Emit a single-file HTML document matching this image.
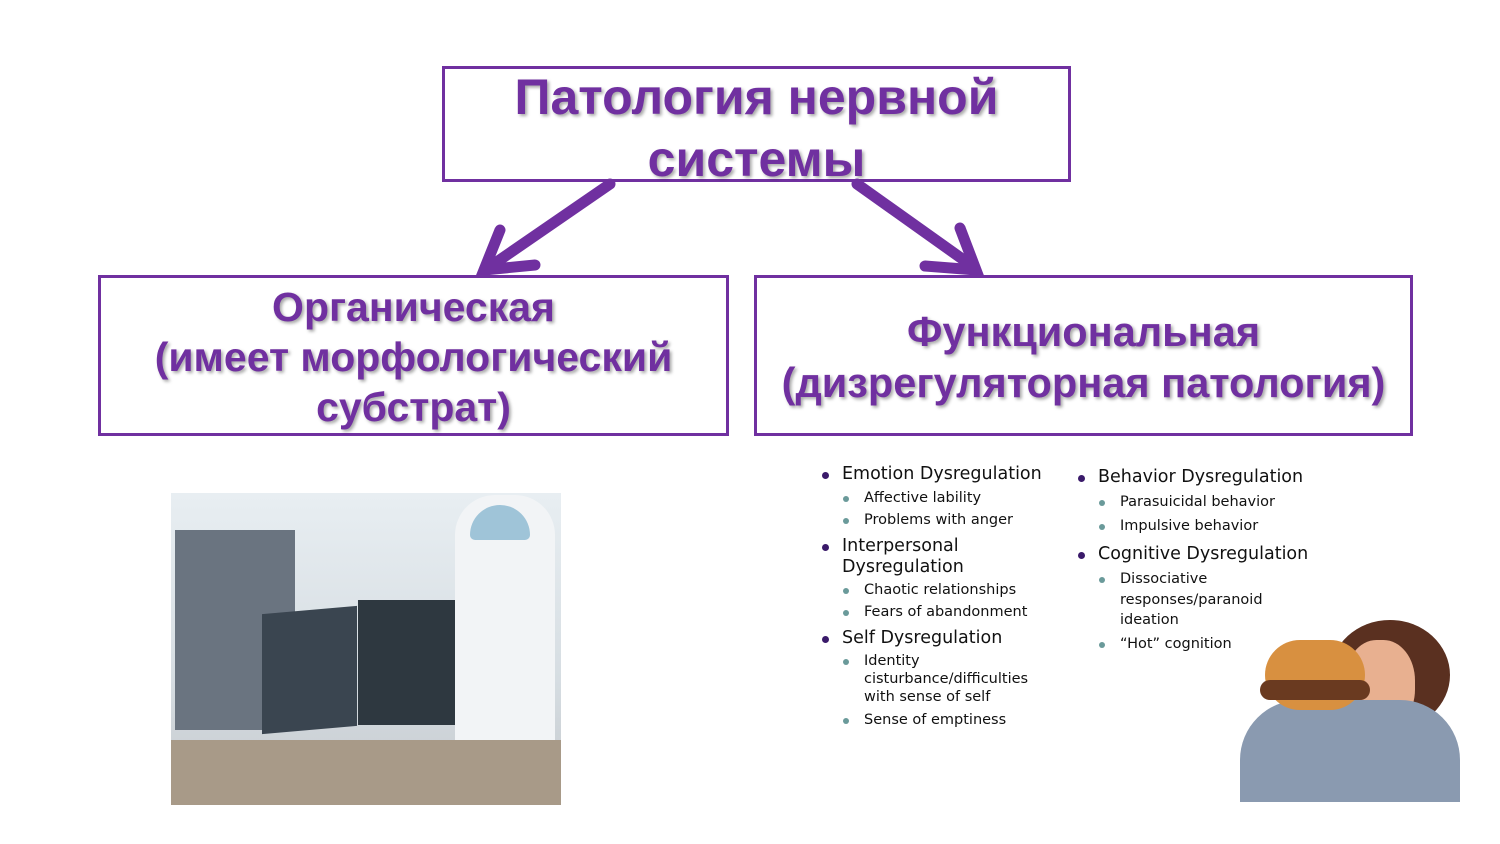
<!DOCTYPE html>
<html><head><meta charset="utf-8"><style>
body{margin:0;width:1500px;height:844px;background:#fff;position:relative;overflow:hidden;font-family:"Liberation Sans",sans-serif}
.box{position:absolute;border:3px solid #7030a0;box-sizing:border-box}
.t{position:absolute;color:#7030a0;font-weight:bold;text-align:center;text-shadow:2px 2px 3px rgba(0,0,0,.35);white-space:nowrap}
.l{position:absolute;font-family:"DejaVu Sans","Liberation Sans",sans-serif;color:#111;white-space:nowrap}
.m{font-size:17.5px}
.s{font-size:14.5px}
.m::before{content:"";position:absolute;left:-20px;top:8px;width:7px;height:7px;border-radius:50%;background:#3a1a6a}
.s::before{content:"";position:absolute;left:-21px;top:6px;width:6px;height:6px;border-radius:50%;background:#6a9a9a}
</style></head><body>
<div class="box" style="left:442px;top:66px;width:629px;height:116px"></div>
<div class="t" style="left:442px;top:66px;width:629px;font-size:50px;line-height:62px">Патология нервной<br>системы</div>
<div class="box" style="left:98px;top:275px;width:631px;height:161px"></div>
<div class="t" style="left:98px;top:282px;width:631px;font-size:41px;line-height:50px">Органическая<br>(имеет морфологический<br>субстрат)</div>
<div class="box" style="left:754px;top:275px;width:659px;height:161px"></div>
<div class="t" style="left:754px;top:306px;width:659px;font-size:41.5px;line-height:51px">Функциональная<br>(дизрегуляторная патология)</div>
<svg style="position:absolute;left:0;top:0" width="1500" height="844">
<g stroke="#7030a0" stroke-width="11" stroke-linecap="round" fill="none">
<line x1="610" y1="184" x2="488" y2="268"/>
<polyline points="500,230 484,270 535,265"/>
<line x1="857" y1="184" x2="975" y2="268"/>
<polyline points="960,228 976,270 925,266"/>
</g>
</svg>
<div style="position:absolute;left:171px;top:493px;width:390px;height:312px;background:linear-gradient(180deg,#e8eef2 0%,#d6dde2 60%,#c4c8cc 100%)"></div>
<div style="position:absolute;left:175px;top:530px;width:120px;height:200px;background:#6a7480"></div>
<div style="position:absolute;left:262px;top:610px;width:95px;height:120px;background:#3a4550;transform:skewY(-5deg)"></div>
<div style="position:absolute;left:358px;top:600px;width:105px;height:125px;background:#2e3840"></div>
<div style="position:absolute;left:455px;top:495px;width:100px;height:260px;background:#f2f4f6;border-radius:40px 40px 0 0"></div>
<div style="position:absolute;left:470px;top:505px;width:60px;height:35px;background:#9fc4d8;border-radius:30px 30px 5px 5px"></div>
<div style="position:absolute;left:171px;top:740px;width:390px;height:65px;background:#a89a88"></div>
<div style="position:absolute;left:1330px;top:620px;width:120px;height:110px;background:#5a3020;border-radius:50%"></div>
<div style="position:absolute;left:1345px;top:640px;width:70px;height:90px;background:#e8b090;border-radius:45%"></div>
<div style="position:absolute;left:1240px;top:700px;width:220px;height:102px;background:#8a9ab0;border-radius:60px 60px 0 0"></div>
<div style="position:absolute;left:1265px;top:640px;width:100px;height:70px;background:#d89040;border-radius:40px"></div>
<div style="position:absolute;left:1260px;top:680px;width:110px;height:20px;background:#6a3a20;border-radius:10px"></div>
<div class="l m" style="left:842px;top:464px">Emotion Dysregulation</div>
<div class="l s" style="left:864px;top:490px">Affective lability</div>
<div class="l s" style="left:864px;top:512px">Problems with anger</div>
<div class="l m" style="left:842px;top:536px">Interpersonal</div>
<div class="l" style="left:842px;top:557px;font-size:17.5px">Dysregulation</div>
<div class="l s" style="left:864px;top:582px">Chaotic relationships</div>
<div class="l s" style="left:864px;top:604px">Fears of abandonment</div>
<div class="l m" style="left:842px;top:628px">Self Dysregulation</div>
<div class="l s" style="left:864px;top:653px">Identity</div>
<div class="l" style="left:864px;top:671px;font-size:14.5px">cisturbance/difficulties</div>
<div class="l" style="left:864px;top:689px;font-size:14.5px">with sense of self</div>
<div class="l s" style="left:864px;top:712px">Sense of emptiness</div>
<div class="l m" style="left:1098px;top:467px">Behavior Dysregulation</div>
<div class="l s" style="left:1120px;top:494px">Parasuicidal behavior</div>
<div class="l s" style="left:1120px;top:518px">Impulsive behavior</div>
<div class="l m" style="left:1098px;top:544px">Cognitive Dysregulation</div>
<div class="l s" style="left:1120px;top:571px">Dissociative</div>
<div class="l" style="left:1120px;top:592px;font-size:14.5px">responses/paranoid</div>
<div class="l" style="left:1120px;top:612px;font-size:14.5px">ideation</div>
<div class="l s" style="left:1120px;top:636px">“Hot” cognition</div>
</body></html>
